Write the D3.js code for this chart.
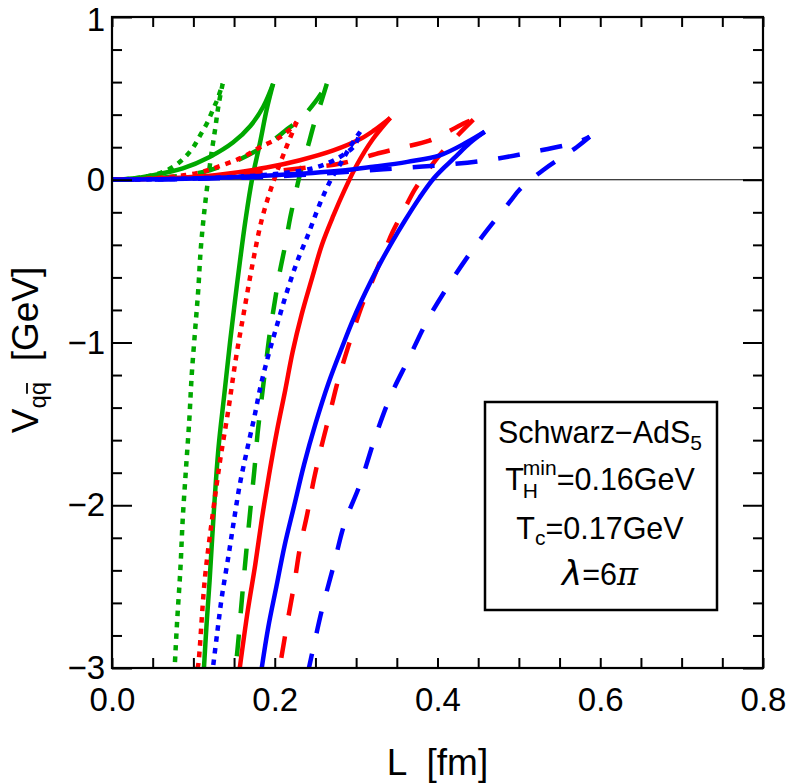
<!DOCTYPE html>
<html><head><meta charset="utf-8">
<script src="https://cdn.jsdelivr.net/npm/d3@7"></script>
<style>
html,body{margin:0;padding:0;background:#fff;}
svg{display:block;font-family:"Liberation Sans",Arial,Helvetica,sans-serif;}
</style></head>
<body><svg id="chart" width="789" height="783"></svg>
<script>
// ---- data: each curve = upper branch (origin -> cusp) + lower branch (cusp -> down), [L fm, V GeV]
const greenDottedUpper = [[0,0],[0.02,0.004],[0.04,0.018],[0.06,0.042],[0.077,0.085],[0.09,0.14],[0.10,0.20],[0.108,0.27],[0.117,0.35],[0.124,0.43],[0.130,0.50],[0.136,0.59]];
const greenDottedLower = [[0.136,0.590],[0.131,0.461],[0.127,0.320],[0.122,0.154],[0.118,0.0],[0.113,-0.215],[0.109,-0.430],[0.106,-0.676],[0.102,-0.934],[0.098,-1.198],[0.095,-1.475],[0.091,-1.770],[0.087,-2.077],[0.084,-2.396],[0.080,-2.716],[0.077,-3.0]];
const greenSolidUpper = [[0,0],[0.025,0.008],[0.047,0.025],[0.087,0.07],[0.12,0.14],[0.149,0.23],[0.17,0.33],[0.186,0.45],[0.198,0.59]];
const greenSolidLower = [[0.198,0.59],[0.190,0.43],[0.182,0.23],[0.172,0.0],[0.164,-0.25],[0.157,-0.51],[0.151,-0.75],[0.145,-1.0],[0.138,-1.32],[0.131,-1.64],[0.125,-2.05],[0.120,-2.46],[0.116,-2.75],[0.113,-3.0]];
const greenDashedUpper = [[0,0],[0.05,0.008],[0.1,0.035],[0.121,0.06],[0.15,0.11],[0.178,0.18],[0.2,0.25],[0.215,0.31],[0.231,0.37],[0.25,0.48],[0.265,0.59]];
const greenDashedLower = [[0.264,0.590],[0.256,0.461],[0.248,0.338],[0.241,0.209],[0.233,0.074],[0.226,-0.074],[0.219,-0.233],[0.213,-0.399],[0.206,-0.571],[0.200,-0.750],[0.194,-0.940],[0.189,-1.137],[0.184,-1.339],[0.179,-1.555],[0.175,-1.782],[0.170,-2.028],[0.165,-2.286],[0.160,-2.556],[0.155,-2.845],[0.152,-3.0]];
const redDottedUpper = [[0,0],[0.05,0.008],[0.104,0.04],[0.136,0.09],[0.161,0.14],[0.182,0.2],[0.206,0.26],[0.221,0.32],[0.227,0.355]];
const redDottedLower = [[0.227,0.355],[0.213,0.184],[0.197,-0.031],[0.184,-0.246],[0.173,-0.51],[0.162,-0.817],[0.152,-1.106],[0.143,-1.413],[0.133,-1.72],[0.124,-2.046],[0.114,-2.458],[0.106,-2.98],[0.105,-3.0]];
const redSolidUpper = [[0,0],[0.06,0.008],[0.129,0.03],[0.19,0.075],[0.231,0.12],[0.272,0.18],[0.305,0.25],[0.321,0.30],[0.342,0.38]];
const redSolidLower = [[0.342,0.381],[0.320,0.246],[0.301,0.092],[0.286,-0.061],[0.272,-0.221],[0.258,-0.399],[0.246,-0.602],[0.233,-0.829],[0.222,-1.057],[0.213,-1.290],[0.203,-1.536],[0.193,-1.813],[0.184,-2.089],[0.176,-2.366],[0.167,-2.642],[0.157,-3.0]];
const redDashedUpper = [[0,0],[0.08,0.01],[0.154,0.03],[0.232,0.07],[0.281,0.10],[0.33,0.166],[0.356,0.197],[0.39,0.24],[0.411,0.29],[0.434,0.35],[0.444,0.369]];
const redDashedLower = [[0.444,0.369],[0.422,0.258],[0.403,0.154],[0.387,0.049],[0.372,-0.061],[0.359,-0.184],[0.345,-0.320],[0.333,-0.461],[0.321,-0.608],[0.308,-0.762],[0.297,-0.922],[0.286,-1.094],[0.276,-1.266],[0.267,-1.450],[0.257,-1.647],[0.248,-1.843],[0.240,-2.052],[0.231,-2.261],[0.224,-2.482],[0.215,-2.734],[0.206,-3.0]];
const blueDottedUpper = [[0,0],[0.1,0.008],[0.2,0.035],[0.25,0.075],[0.28,0.14],[0.298,0.21],[0.305,0.295]];
const blueDottedLower = [[0.305,0.295],[0.292,0.197],[0.280,0.092],[0.269,0.0],[0.256,-0.141],[0.240,-0.350],[0.227,-0.510],[0.215,-0.688],[0.204,-0.872],[0.193,-1.063],[0.183,-1.260],[0.175,-1.456],[0.166,-1.659],[0.157,-1.874],[0.150,-2.089],[0.143,-2.316],[0.135,-2.562],[0.129,-2.796],[0.124,-3.0]];
const blueSolidUpper = [[0,0],[0.1,0.008],[0.2,0.028],[0.28,0.055],[0.321,0.08],[0.363,0.11],[0.403,0.15],[0.436,0.23],[0.458,0.295]];
const blueSolidLower = [[0.458,0.295],[0.440,0.227],[0.422,0.141],[0.408,0.074],[0.394,0.0],[0.378,-0.11],[0.360,-0.25],[0.345,-0.375],[0.331,-0.5],[0.318,-0.625],[0.306,-0.75],[0.295,-0.875],[0.285,-1.0],[0.266,-1.25],[0.250,-1.5],[0.236,-1.75],[0.224,-2.0],[0.212,-2.25],[0.202,-2.5],[0.192,-2.75],[0.184,-3.0]];
const blueDashedUpper = [[0,0],[0.1,0.005],[0.2,0.02],[0.292,0.05],[0.35,0.07],[0.405,0.09],[0.461,0.12],[0.516,0.17],[0.571,0.23],[0.587,0.264]];
const blueDashedLower = [[0.587,0.264],[0.571,0.2],[0.530,0.06],[0.501,-0.06],[0.489,-0.135],[0.452,-0.369],[0.418,-0.614],[0.388,-0.860],[0.364,-1.106],[0.343,-1.321],[0.324,-1.573],[0.305,-1.868],[0.286,-2.108],[0.272,-2.378],[0.258,-2.642],[0.245,-2.931],[0.242,-3.0]];

const xTickValues = [0,0.05,0.1,0.15,0.2,0.25,0.3,0.35,0.4,0.45,0.5,0.55,0.6,0.65,0.7,0.75,0.8];
const xTickLabels = ["0.0","0.2","0.4","0.6","0.8"];
const yMajorTicks = [1,0,-1,-2,-3];
const yTickLabels = ["1","0","\u22121","\u22122","\u22123"];
const yMinorTicks = [0.8,0.6,0.4,0.2,-0.2,-0.4,-0.6,-0.8,-1.2,-1.4,-1.6,-1.8,-2.2,-2.4,-2.6,-2.8];
const legendLines = ["Schwarz\u2212AdS", "5", "T", "min", "H", "=0.16GeV", "c", "=0.17GeV", "\u03bb", "=6", "\u03c0"];

const curves = [
  {up: greenDottedUpper, lo: greenDottedLower, color: "#00a800", dash: "5.5,6"},
  {up: greenSolidUpper,  lo: greenSolidLower,  color: "#00a800", dash: null},
  {up: greenDashedUpper, lo: greenDashedLower, color: "#00a800", dash: "22,21"},
  {up: redDottedUpper,   lo: redDottedLower,   color: "#ff0000", dash: "5.5,6"},
  {up: redSolidUpper,    lo: redSolidLower,    color: "#ff0000", dash: null},
  {up: redDashedUpper,   lo: redDashedLower,   color: "#ff0000", dash: "22,21"},
  {up: blueDottedUpper,  lo: blueDottedLower,  color: "#0000ff", dash: "5.5,6"},
  {up: blueSolidUpper,   lo: blueSolidLower,   color: "#0000ff", dash: null},
  {up: blueDashedUpper,  lo: blueDashedLower,  color: "#0000ff", dash: "22,21"}
];

const svg = d3.select("#chart");
const L = 112, R = 763, T = 17, B = 668;
const x = d3.scaleLinear().domain([0,0.8]).range([L,R]);
const y = d3.scaleLinear().domain([-3,1]).range([B,T]);

svg.append("defs").append("clipPath").attr("id","clip")
  .append("rect").attr("x",L).attr("y",T).attr("width",R-L).attr("height",B-T);

// zero line
svg.append("line").attr("x1",x(0)).attr("x2",x(0.8)).attr("y1",y(0)).attr("y2",y(0))
  .attr("stroke","#000").attr("stroke-width",1.2);

const line = d3.line().x(d=>x(d[0])).y(d=>y(d[1])).curve(d3.curveCatmullRom.alpha(0.5));
const g = svg.append("g").attr("clip-path","url(#clip)");
curves.forEach(c=>{
  [c.up, c.lo].forEach(arr=>{
    g.append("path").attr("d", line(arr)).attr("fill","none")
      .attr("stroke", c.color).attr("stroke-width", 4.5)
      .attr("stroke-dasharray", c.dash).attr("stroke-linecap","butt");
  });
});

const fs = 33;
// bottom axis
const gx = svg.append("g").attr("transform",`translate(0,${B})`)
  .call(d3.axisBottom(x).tickValues(xTickValues).tickSize(-10).tickPadding(20).tickFormat(d=>{
    const s = d.toFixed(1); return (Math.round(d*100) % 20 === 0 && xTickLabels.includes(s)) ? s : "";}));
// top axis
const gxt = svg.append("g").attr("transform",`translate(0,${T})`)
  .call(d3.axisTop(x).tickValues(xTickValues).tickSize(-10).tickFormat(""));
// left axis
const gyMin = svg.append("g").attr("transform",`translate(${L},0)`)
  .call(d3.axisLeft(y).tickValues(yMinorTicks).tickSize(-10).tickFormat(""));
const gyMaj = svg.append("g").attr("transform",`translate(${L},0)`)
  .call(d3.axisLeft(y).tickValues(yMajorTicks).tickSize(-20).tickPadding(7).tickFormat((d,i)=> yTickLabels[i]));
// right axis
const gyrMin = svg.append("g").attr("transform",`translate(${R},0)`)
  .call(d3.axisRight(y).tickValues(yMinorTicks).tickSize(-10).tickFormat(""));
const gyrMaj = svg.append("g").attr("transform",`translate(${R},0)`)
  .call(d3.axisRight(y).tickValues(yMajorTicks).tickSize(-20).tickFormat(""));

[gx,gxt,gyMin,gyMaj,gyrMin,gyrMaj].forEach(a=>{
  a.select(".domain").remove();
  a.selectAll(".tick line").attr("stroke","#000").attr("stroke-width",2);
  a.selectAll("text").attr("font-size",fs).attr("fill","#000")
    .attr("font-family",'"Liberation Sans",Arial,Helvetica,sans-serif');
});
// keep the top label "1" inside the picture
gyMaj.selectAll(".tick text").filter(d=>d===1).attr("dy","0.4em");

// frame
svg.append("rect").attr("x",L).attr("y",T).attr("width",R-L).attr("height",B-T)
  .attr("fill","none").attr("stroke","#000").attr("stroke-width",2.2);

// x title
svg.append("text").attr("x",(L+R)/2).attr("y",775).attr("text-anchor","middle")
  .attr("font-size",37).attr("xml:space","preserve").text("L  [fm]");

// y title (rotated)
const yt = svg.append("g").attr("transform","translate(38,350) rotate(-90)");
const ytx = yt.append("text").attr("font-size",37).attr("x",0).attr("y",0).attr("xml:space","preserve");
ytx.append("tspan").text("V");
ytx.append("tspan").attr("font-size",24).attr("dy",8).text("q");
ytx.append("tspan").attr("font-size",24).text("q");
ytx.append("tspan").attr("font-size",37).attr("dy",-8).text("  [GeV]");
const tw = ytx.node().getComputedTextLength();
ytx.attr("x",-tw/2);
{
  const n = ytx.node();
  const start = n.getStartPositionOfChar(2), end = n.getEndPositionOfChar(2);
  yt.append("line").attr("x1",start.x+1.5).attr("x2",end.x-1).attr("y1",-11).attr("y2",-11)
    .attr("stroke","#000").attr("stroke-width",1.8);
}

// legend box
svg.append("rect").attr("x",485).attr("y",402).attr("width",232).attr("height",208)
  .attr("fill","#fff").attr("stroke","#000").attr("stroke-width",2.5);
const cx = 600, lfs = 30.5, sfs = 21;
// line 1
{
  const t = svg.append("text").attr("y",443).attr("font-size",lfs);
  t.append("tspan").text(legendLines[0]);
  t.append("tspan").attr("font-size",sfs).attr("dy",7).text(legendLines[1]);
  const w = t.node().getComputedTextLength();
  t.attr("x",cx-w/2);
}
// line 2 : T_H^min=0.16GeV (stacked sub/sup)
{
  const base = 490;
  const tT = svg.append("text").attr("y",base).attr("font-size",lfs).text(legendLines[2]);
  const tMin = svg.append("text").attr("y",base-15).attr("font-size",sfs).text(legendLines[3]);
  const tH = svg.append("text").attr("y",base+8).attr("font-size",sfs).text(legendLines[4]);
  const tRest = svg.append("text").attr("y",base).attr("font-size",lfs).text(legendLines[5]);
  const wT = tT.node().getComputedTextLength()-1;
  const wS = tMin.node().getComputedTextLength();
  const wR = tRest.node().getComputedTextLength();
  const x0 = cx - (wT + wS + wR)/2;
  tT.attr("x",x0); tMin.attr("x",x0+wT); tH.attr("x",x0+wT);
  tRest.attr("x",x0+wT+wS);
}
// line 3 : T_c=0.17GeV
{
  const t = svg.append("text").attr("y",539).attr("font-size",lfs);
  t.append("tspan").text(legendLines[2]);
  t.append("tspan").attr("font-size",sfs).attr("dy",6).text(legendLines[6]);
  t.append("tspan").attr("dy",-6).text(legendLines[7]);
  const w = t.node().getComputedTextLength();
  t.attr("x",cx-w/2);
}
// line 4 : λ=6π
{
  const t = svg.append("text").attr("y",585).attr("font-size",lfs);
  t.append("tspan").attr("font-family","DejaVu Sans").attr("font-style","italic").attr("font-size",34).text(legendLines[8]);
  t.append("tspan").text(legendLines[9]);
  t.append("tspan").attr("font-family","DejaVu Serif").attr("font-style","italic").attr("font-size",32).text(legendLines[10]);
  const w = t.node().getComputedTextLength();
  t.attr("x",cx-w/2);
}
</script></body></html>
